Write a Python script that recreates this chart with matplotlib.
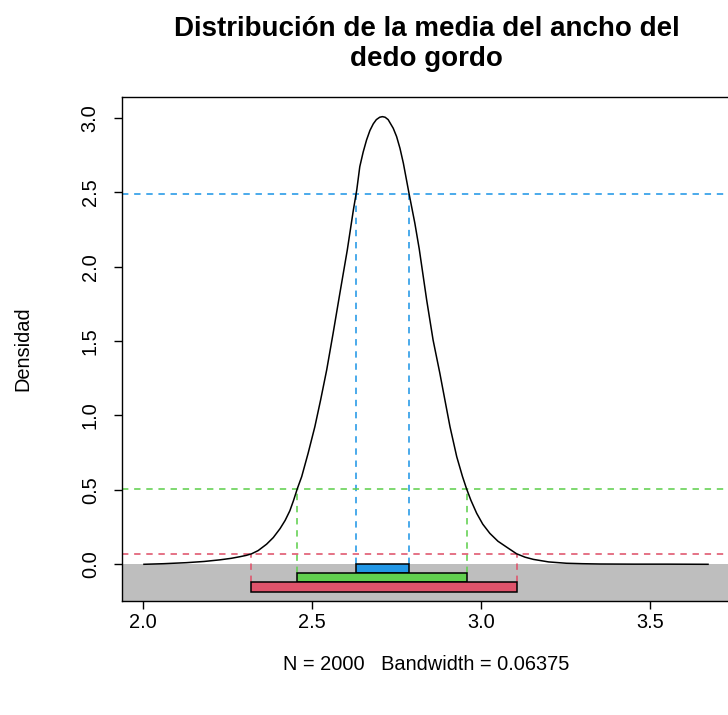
import numpy as np
import matplotlib
matplotlib.use("Agg")
import matplotlib.pyplot as plt
from matplotlib.patches import Rectangle

plt.rcParams['font.family'] = ['Liberation Sans', 'DejaVu Sans']

# ── DATA ──────────────────────────────────────────────────────────────────────
# kernel density of the sample means
dens_x = [2.002, 2.060, 2.128, 2.180, 2.227, 2.260, 2.286, 2.305, 2.321, 2.340,
          2.365, 2.385, 2.405, 2.420, 2.434, 2.445, 2.456, 2.469, 2.488, 2.508,
          2.525, 2.543, 2.562, 2.582, 2.604, 2.622, 2.632, 2.641, 2.651, 2.661,
          2.671, 2.681, 2.690, 2.700, 2.708, 2.716, 2.725, 2.740, 2.750, 2.760,
          2.770, 2.787, 2.804, 2.817, 2.839, 2.858, 2.878, 2.893, 2.908, 2.928,
          2.945, 2.957, 2.970, 2.987, 3.005, 3.026, 3.050, 3.076, 3.105, 3.130,
          3.155, 3.200, 3.253, 3.300, 3.352, 3.450, 3.550, 3.672]
dens_y = [0.000, 0.004, 0.011, 0.019, 0.030, 0.040, 0.051, 0.060, 0.071, 0.092,
          0.135, 0.180, 0.240, 0.295, 0.360, 0.430, 0.508, 0.589, 0.746, 0.925,
          1.104, 1.306, 1.552, 1.821, 2.112, 2.381, 2.515, 2.672, 2.770, 2.851,
          2.915, 2.960, 2.988, 3.004, 3.008, 3.004, 2.988, 2.930, 2.874, 2.795,
          2.695, 2.489, 2.292, 2.119, 1.776, 1.507, 1.284, 1.104, 0.925, 0.723,
          0.590, 0.508, 0.430, 0.343, 0.270, 0.208, 0.155, 0.115, 0.071, 0.048,
          0.033, 0.016, 0.007, 0.004, 0.002, 0.001, 0.001, 0.000]

# highest density regions (50 %, 95 %, 99 %)
hdr_level = [2.489, 0.508, 0.071]
hdr_lo    = [2.631, 2.455, 2.320]
hdr_hi    = [2.787, 2.958, 3.106]
hdr_color = ["#2297E6", "#61D04F", "#DF536B"]

x_ticks = [2.0, 2.5, 3.0, 3.5]
y_ticks = [0.0, 0.5, 1.0, 1.5, 2.0, 2.5, 3.0]

TITLE = "Distribución de la media del ancho del\ndedo gordo"
XLAB  = "N = 2000   Bandwidth = 0.06375"
YLAB  = "Densidad"

# ── FIGURE ────────────────────────────────────────────────────────────────────
W, H = 728, 715
fig = plt.figure(figsize=(W / 100, H / 100), dpi=100, facecolor="white")
L, R, T, B = 122, 731, 97, 601          # plot region in pixels (right edge is cut off)
ax = fig.add_axes([L / W, 1 - B / H, (R - L) / W, (B - T) / H])
ax.set_xlim(1.937, 3.740)
ax.set_ylim(-0.2466, 3.140)

box_h = 0.061
ax.axhspan(-0.2466, 0, color="#BEBEBE", lw=0, zorder=1)

dash = (0, (4.0, 3.6))
for i, (lev, lo, hi, col) in enumerate(zip(hdr_level, hdr_lo, hdr_hi, hdr_color)):
    ax.axhline(lev, color=col, lw=1.15, ls=dash, zorder=2)
    for xv in (lo, hi):
        ax.plot([xv, xv], [-box_h * i, lev], color=col, lw=1.15, ls=dash, zorder=2)
    ax.add_patch(Rectangle((lo, -box_h * (i + 1)), hi - lo, box_h,
                           facecolor=col, edgecolor="black", lw=1.1, zorder=4))

ax.plot(dens_x, dens_y, color="black", lw=1.1, zorder=3)

# ── AXES STYLE ────────────────────────────────────────────────────────────────
for s in ax.spines.values():
    s.set_linewidth(1.0)
ax.set_xticks(x_ticks)
ax.set_xticklabels([f"{v:.1f}" for v in x_ticks], fontsize=14.4)
ax.set_yticks(y_ticks)
ax.set_yticklabels([f"{v:.1f}" for v in y_ticks], fontsize=14.4,
                   rotation=90, va="center")
ax.tick_params(axis="both", direction="out", length=6, width=1.0)
ax.tick_params(axis="x", pad=3)
ax.tick_params(axis="y", pad=10)

ax.set_xlabel(XLAB, fontsize=14.4)
ax.xaxis.set_label_coords(0.5, -(665 - B) / (B - T))
ax.xaxis.label.set_va("center")
ax.set_ylabel(YLAB, fontsize=14.4)
ax.yaxis.set_label_coords(-(L - 23) / (R - L), 0.5)
ax.yaxis.label.set_va("center")

fig.text((L + R) / 2 / W, 1 - 44 / H, TITLE, ha="center", va="center",
         fontsize=20, fontweight="bold", linespacing=1.22)

fig.savefig("out.png", dpi=100, facecolor="white")
